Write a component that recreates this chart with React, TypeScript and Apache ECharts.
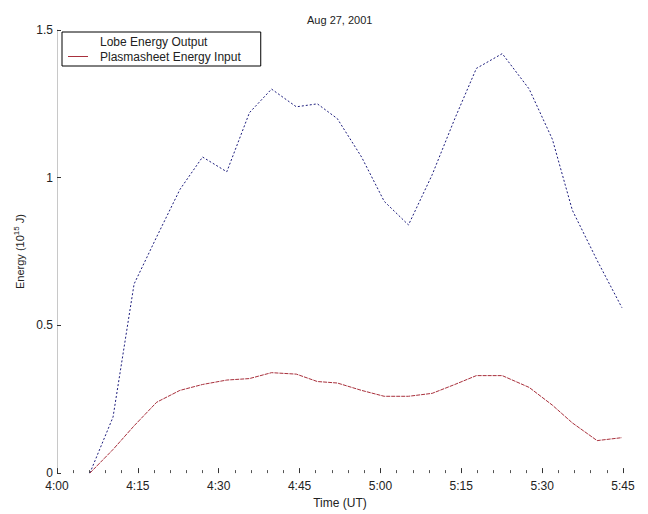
import React, { useEffect, useRef } from "react";
import * as echarts from "echarts";

// time in minutes after 4:00 UT
const times = [6.1, 10.4, 14.3, 18.5, 22.8, 27.0, 31.5, 35.7, 39.8, 44.4, 48.3, 52.0, 56.5, 60.7, 65.2, 69.6, 73.8, 77.8, 82.6, 87.6, 91.9, 95.6, 100.2, 104.8];
const lobeEnergy = [0.0, 0.19, 0.64, 0.8, 0.96, 1.07, 1.02, 1.22, 1.3, 1.24, 1.25, 1.2, 1.07, 0.92, 0.84, 1.01, 1.2, 1.37, 1.42, 1.3, 1.13, 0.89, 0.72, 0.56];
const plasmaEnergy = [0.0, 0.08, 0.16, 0.24, 0.28, 0.3, 0.315, 0.32, 0.34, 0.335, 0.31, 0.305, 0.28, 0.26, 0.26, 0.27, 0.3, 0.33, 0.33, 0.29, 0.23, 0.17, 0.11, 0.12];
const xTickLabels = ["4:00", "4:15", "4:30", "4:45", "5:00", "5:15", "5:30", "5:45"];
const seriesNames = ["Lobe Energy Output", "Plasmasheet Energy Input"];

const FONT = "'Liberation Sans', Arial, sans-serif";

export default function App() {
  const ref = useRef<HTMLDivElement>(null);
  useEffect(() => {
    if (!ref.current) return;
    const chart = echarts.init(ref.current, undefined, { renderer: "svg" });
    const blueColor = "#1c1c7c";
    const redColor = "#a8303c";
    chart.setOption({
      animation: false,
      backgroundColor: "#ffffff",
      textStyle: { fontFamily: FONT },
      title: {
        text: "Aug 27, 2001",
        left: 302,
        top: 9,
        textStyle: { fontFamily: FONT, fontSize: 11, fontWeight: "normal", color: "#222" },
      },
      legend: {
        orient: "vertical",
        left: 62,
        top: 32,
        padding: [3, 20, 3, 6],
        itemGap: 2,
        itemWidth: 20,
        itemHeight: 1,
        backgroundColor: "#ffffff",
        borderColor: "#000",
        borderWidth: 1,
        borderRadius: 0,
        selectedMode: false,
        textStyle: { fontFamily: FONT, fontSize: 12, color: "#222", lineHeight: 13, padding: [0, 0, 0, 7] },
        data: [
          { name: seriesNames[0], icon: "rect", itemStyle: { color: "rgba(0,0,0,0)" } },
          { name: seriesNames[1], icon: "rect", itemStyle: { color: redColor } },
        ],
      },
      grid: { left: 57, right: 25, top: 30, bottom: 35 },
      xAxis: {
        type: "value",
        min: 0,
        max: 105,
        interval: 15,
        name: "Time (UT)",
        nameLocation: "middle",
        nameGap: 22,
        nameTextStyle: { fontFamily: FONT, fontSize: 12, color: "#222" },
        axisLine: { show: false },
        axisTick: { show: true, inside: true, length: 5, lineStyle: { color: "#333" } },
        minorTick: { show: true, splitNumber: 5, length: 3, lineStyle: { color: "#555" } },
        splitLine: { show: false },
        axisLabel: {
          fontFamily: FONT,
          fontSize: 12,
          lineHeight: 12,
          color: "#222",
          margin: 7,
          formatter: (v: number) => xTickLabels[Math.round(v / 15)] ?? "",
        },
      },
      yAxis: {
        type: "value",
        min: 0,
        max: 1.5,
        interval: 0.5,
        name: "Energy (10{sup|15} J)",
        nameLocation: "middle",
        nameGap: 26,
        nameTextStyle: {
          fontFamily: FONT,
          fontSize: 11,
          color: "#222",
          rich: { sup: { fontSize: 8, verticalAlign: "top", padding: [0, 0, 6, 0], fontFamily: FONT, color: "#222" } },
        },
        axisLine: { show: true, lineStyle: { color: "#c8c8c8", width: 1 } },
        axisTick: { show: true, inside: true, length: 4, lineStyle: { color: "#333" } },
        splitLine: { show: false },
        axisLabel: { fontFamily: FONT, fontSize: 12, lineHeight: 11, color: "#222", margin: 4 },
      },
      series: [
        {
          name: seriesNames[0],
          type: "line",
          symbol: "none",
          data: times.map((t, i) => [t, lobeEnergy[i]]),
          lineStyle: { color: blueColor, width: 1, type: [2, 2] },
          itemStyle: { color: blueColor },
        },
        {
          name: seriesNames[1],
          type: "line",
          symbol: "none",
          data: times.map((t, i) => [t, plasmaEnergy[i]]),
          lineStyle: { color: redColor, width: 1, type: [4, 1] },
          itemStyle: { color: redColor },
        },
      ],
    });
    return () => chart.dispose();
  }, []);
  return <div ref={ref} style={{ width: 648, height: 514, position: "absolute", left: 0, top: 0 }} />;
}
